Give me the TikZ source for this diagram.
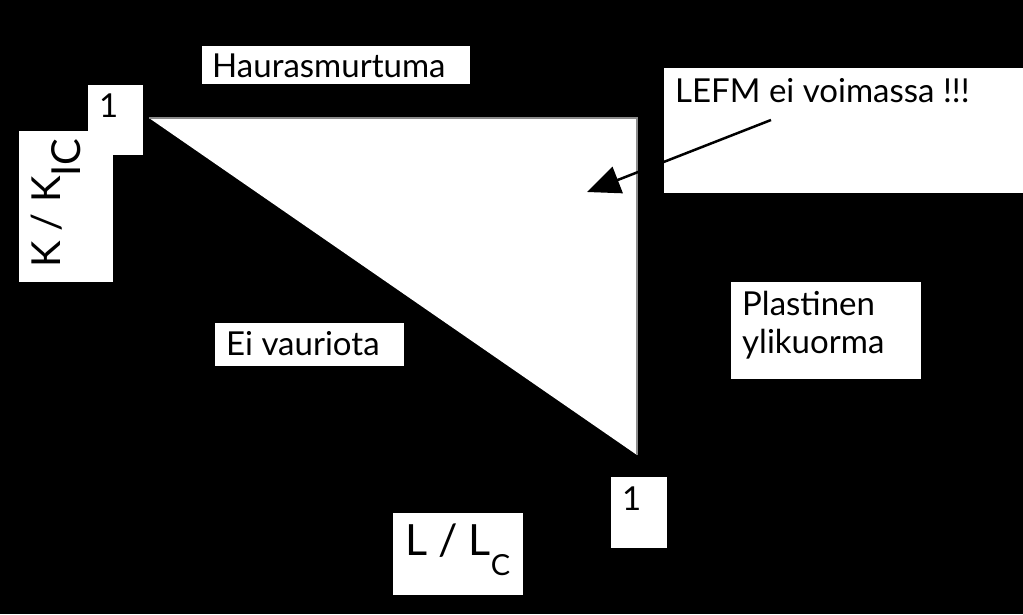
\documentclass[tikz,border=0pt]{standalone}
\usepackage{fontspec}
\setmainfont{Lato}
\usetikzlibrary{arrows.meta}
\begin{document}
\begin{tikzpicture}[x=1pt,y=-1pt,
  box/.style={fill=white, draw=none, inner sep=0pt, outer sep=0pt, anchor=north west},
  lbl/.style={inner sep=0pt, anchor=base west, font=\fontsize{33}{38}\selectfont, text=black},
  big/.style={inner sep=0pt, anchor=base west, font=\fontsize{43}{50}\selectfont, text=black},
  edge/.style={draw=gray!90, line width=2pt},
  pointer/.style={draw=black, line width=2.5pt, -{Triangle[length=33pt,width=28pt]}}]
\fill[black] (0,0) rectangle (1023,614);
\useasboundingbox (0,0) rectangle (1023,614);
% triangle
\coordinate (tA) at (149,118);
\coordinate (tB) at (637,118);
\coordinate (tC) at (637,455);
\fill[white] (tA) -- (tB) -- (tC) -- cycle;
\draw[edge] (tA) -- (tB) -- (tC);
% boxes
\node[box, minimum width=55, minimum height=70] (bOneTop) at (88,85) {};
\node[box, minimum width=94, minimum height=151] (bK) at (19,131) {};
\node[box, minimum width=268, minimum height=38] (bHaur) at (202,46) {};
\node[box, minimum width=359, minimum height=125] (bLefm) at (664,68) {};
\node[box, minimum width=189, minimum height=43] (bEi) at (215,323) {};
\node[box, minimum width=190, minimum height=97] (bPlast) at (731,282) {};
\node[box, minimum width=56, minimum height=71] (bOneBot) at (611,477) {};
\node[box, minimum width=130, minimum height=82] (bL) at (393,513) {};
% texts
\node[lbl] (tOneTop) at (99,117) {1};
\node[big, font=\fontsize{40}{46}\selectfont, rotate=90] (tK) at (60,268) {K / K\raisebox{-20pt}{IC}};
\node[lbl] (tHaur) at (212,77) {Haurasmurtuma};
\node[lbl] (tLefm) at (675,102) {LEFM ei voimassa !!!};
\node[lbl] (tEi) at (226,355) {Ei vauriota};
\node[lbl] (tPlast1) at (742,315) {Plastinen};
\node[lbl] (tPlast2) at (742,353) {ylikuorma};
\node[lbl] (tOneBot) at (622,510) {1};
\node[big] (tL) at (405,555) {L / L\raisebox{-20pt}{\fontsize{29}{34}\selectfont C}};
% arrow
\coordinate (aStart) at (771,120);
\coordinate (aEnd) at (587,192);
\draw[pointer] (aStart) -- (aEnd);
\end{tikzpicture}
\end{document}
